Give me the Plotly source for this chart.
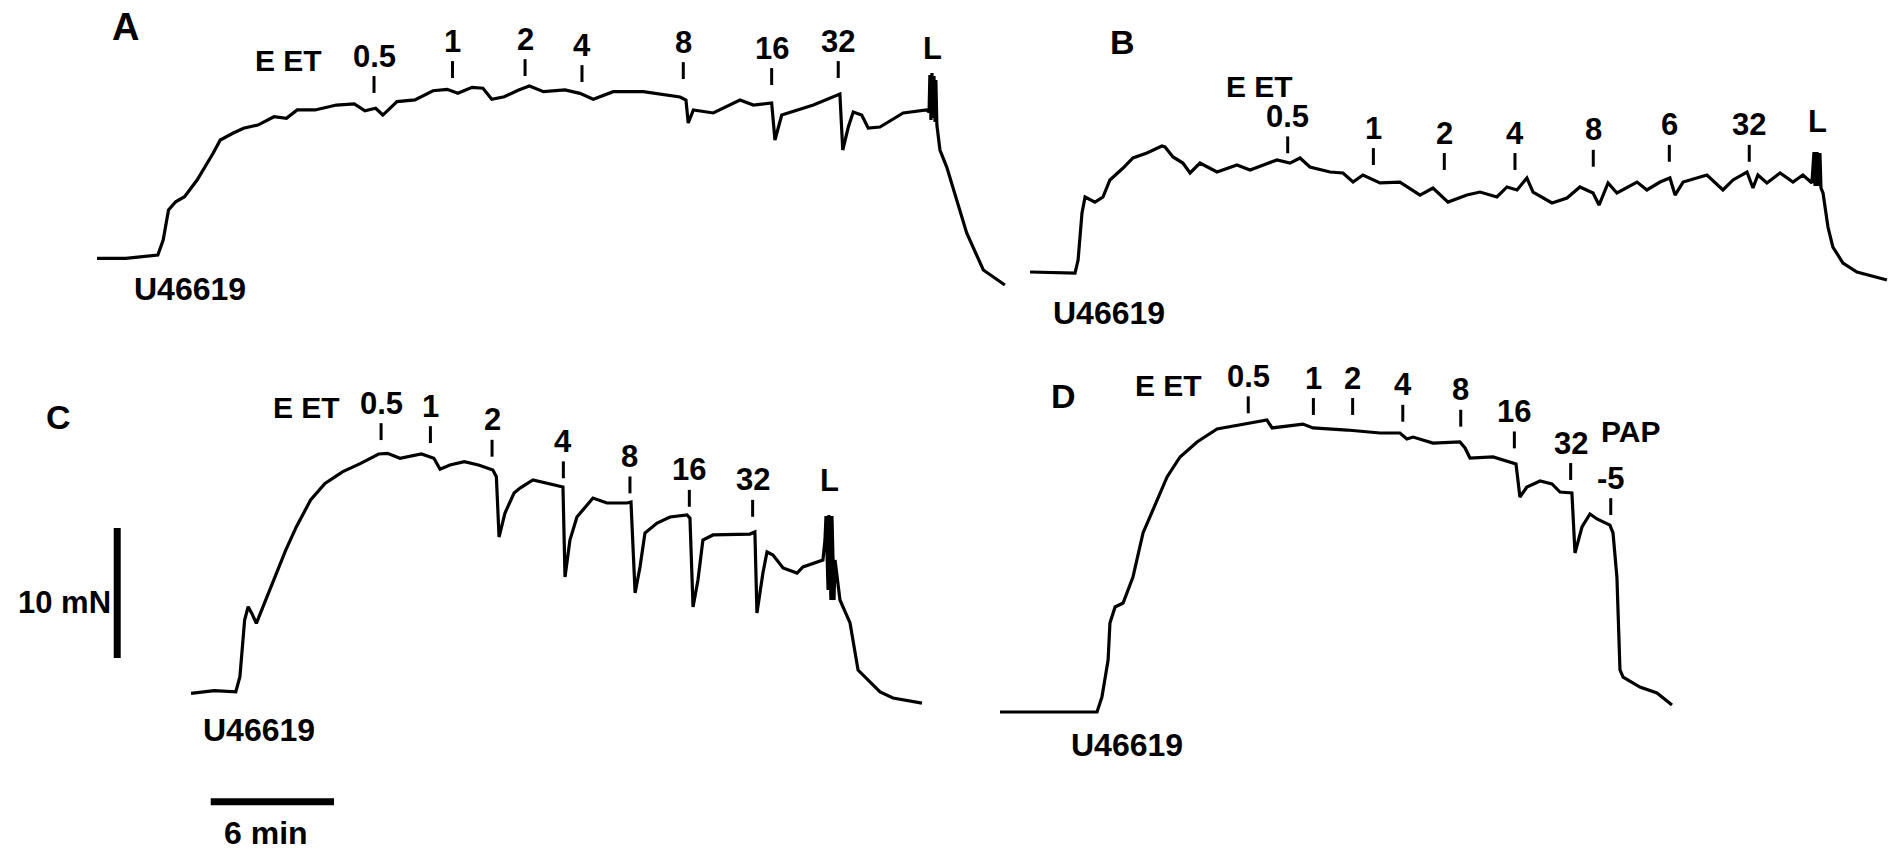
import plotly.graph_objects as go

# ---------------------------------------------------------------------------
# Isometric tension recordings (time in min, tension in mN above baseline)
# ---------------------------------------------------------------------------

# Panel A
a_time = [0.00, 1.40, 2.96, 3.22, 3.48, 3.83, 4.26, 4.87, 5.65, 6.00, 6.61, 7.13, 7.83,
          8.61, 9.22, 9.74, 10.61, 11.65, 12.52, 13.04, 13.56, 13.91, 14.60, 15.47, 16.35,
          17.04, 17.56, 18.25, 18.78, 19.21, 19.82, 20.52, 21.04, 21.73, 22.77, 23.50,
          24.15, 25.12, 26.58, 28.37, 28.66, 28.77, 29.02, 29.99, 31.29, 31.94, 32.83,
          32.99, 33.32, 34.86, 36.15, 36.29, 36.56, 36.80, 37.21, 37.53, 38.10, 39.23,
          40.37, 40.49, 40.53, 40.58, 40.63, 40.68, 40.73, 40.78, 40.82, 40.87, 41.02,
          41.35, 42.32, 43.13, 44.18]
a_force = [-0.1, -0.1, 0.15, 1.31, 3.62, 4.25, 4.64, 5.92, 7.98, 9.0, 9.52, 9.9, 10.15,
           10.79, 10.67, 11.31, 11.31, 11.69, 11.77, 11.25, 11.44, 10.92, 11.95, 12.08, 12.79,
           12.9, 12.59, 13.05, 12.98, 12.13, 12.33, 12.85, 13.15, 12.72, 12.85, 12.59,
           12.13, 12.72, 12.72, 12.31, 12.08, 10.31, 11.31, 11.08, 12.08, 11.69, 11.85,
           9.0, 10.92, 11.69, 12.54, 8.23, 10.0, 11.15, 10.92, 9.92, 10.0, 11.08,
           11.31, 11.15, 14.0, 10.54, 14.15, 10.69, 13.92, 10.38, 13.62, 10.15, 8.23,
           6.92, 1.85, -1.0, -2.15]
a_doses = ["0.5", "1", "2", "4", "8", "16", "32", "L"]
a_dose_time = [13.48, 17.30, 20.83, 23.60, 28.53, 32.83, 36.07, 40.68]

# Panel B
b_time = [0.00, 2.19, 2.34, 2.53, 2.68, 3.16, 3.55, 3.89, 4.53, 5.01, 5.69, 6.18, 6.42,
          6.57, 6.96, 7.44, 7.79, 8.27, 9.10, 10.07, 10.71, 12.02, 12.65, 13.14, 13.62,
          14.60, 15.23, 15.72, 16.20, 17.03, 18.00, 18.98, 19.61, 20.34, 21.26, 21.90,
          22.72, 23.21, 23.70, 24.18, 24.48, 25.40, 26.13, 26.76, 27.40, 27.69, 28.13,
          28.56, 29.54, 30.02, 30.66, 31.14, 31.39, 31.78, 32.94, 33.72, 34.21, 34.89,
          35.18, 35.42, 35.86, 36.50, 37.13, 37.61, 38.05, 38.15, 38.20, 38.30, 38.34,
          38.44, 38.49, 38.59, 38.83, 39.07, 39.56, 40.24, 41.70]
b_force = [0.0, -0.08, 0.92, 4.54, 5.77, 5.38, 5.77, 7.08, 8.0, 8.77, 9.15, 9.54, 9.69,
           9.62, 8.85, 8.38, 7.62, 8.38, 7.69, 8.23, 7.85, 8.62, 8.38, 8.77, 8.08,
           7.69, 7.62, 6.92, 7.46, 6.85, 6.92, 5.92, 6.46, 5.38, 5.92, 6.15,
           5.77, 6.54, 6.31, 7.23, 6.15, 5.31, 5.69, 6.54, 6.08, 5.15, 6.85,
           6.08, 6.92, 6.31, 6.92, 7.23, 5.92, 6.92, 7.46, 6.31, 7.08, 7.69,
           6.46, 7.46, 6.85, 7.62, 6.92, 7.46, 6.85, 9.23, 6.62, 9.23, 6.62,
           9.15, 6.46, 6.08, 3.46, 1.92, 0.69, 0.0, -0.62]
b_doses = ["0.5", "1", "2", "4", "8", "6", "32", "L"]
b_dose_time = [12.54, 16.71, 20.16, 23.60, 27.41, 31.11, 35.00, 38.30]

# Panel C
c_time = [0.00, 1.13, 2.18, 2.38, 2.61, 2.78, 2.96, 3.18, 3.57, 4.09, 4.61, 5.13, 5.82,
          6.52, 7.39, 8.26, 9.13, 9.56, 10.17, 11.21, 11.82, 12.12, 12.60, 13.30, 13.99,
          14.69, 14.86, 14.99, 15.28, 15.72, 16.01, 16.64, 17.96, 18.10, 18.20, 18.44,
          18.78, 19.56, 20.24, 21.22, 21.41, 21.61, 21.85, 22.09, 22.68, 23.31, 24.14,
          24.28, 24.43, 24.67, 24.91, 25.40, 27.20, 27.44, 27.54, 27.83, 28.03, 28.32,
          28.81, 29.49, 29.78, 30.75, 30.85, 30.90, 31.00, 31.04, 31.14, 31.19, 31.29,
          31.34, 31.58, 32.07, 32.46, 33.53, 34.16, 35.57]
c_force = [-0.1, 0.1, 0.02, 1.18, 5.54, 6.56, 6.05, 5.28, 6.82, 8.87, 10.92, 12.72, 14.77,
           16.05, 16.95, 17.59, 18.31, 18.36, 17.98, 18.31, 17.98, 17.13, 17.46, 17.72, 17.46,
           17.08, 16.56, 11.92, 13.77, 15.31, 15.69, 16.31, 15.85, 15.77, 8.85, 11.69,
           13.46, 14.92, 14.54, 14.54, 14.62, 7.62, 9.62, 12.23, 13.0, 13.46, 13.62,
           13.38, 6.54, 8.62, 11.69, 12.08, 12.15, 12.31, 6.08, 9.15, 10.77, 10.54,
           9.54, 9.15, 9.62, 10.15, 11.69, 13.54, 7.85, 13.62, 7.08, 13.54, 7.08,
           10.15, 7.08, 5.31, 1.69, 0.0, -0.46, -0.85]
c_doses = ["0.5", "1", "2", "4", "8", "16", "32", "L"]
c_dose_time = [9.25, 11.65, 14.65, 18.12, 21.36, 24.25, 27.33, 31.09]

# Panel D
d_time = [0.00, 4.72, 4.96, 5.26, 5.35, 5.60, 5.99, 6.47, 6.96, 7.44, 8.13, 8.76, 9.59,
          10.56, 11.68, 12.99, 13.24, 13.97, 14.74, 15.23, 16.89, 18.49, 19.46, 19.80,
          20.10, 21.07, 22.38, 22.63, 22.87, 23.99, 24.96, 25.11, 25.30, 25.64, 26.28,
          26.86, 27.25, 27.83, 27.98, 28.32, 28.71, 29.05, 29.68, 29.83, 30.02, 30.17,
          30.32, 31.14, 31.97, 32.70]
d_force = [0.0, 0.0, 1.15, 4.0, 6.85, 8.08, 8.38, 10.38, 13.77, 15.54, 18.08, 19.62, 20.77,
           21.77, 22.08, 22.46, 21.85, 22.0, 22.15, 21.85, 21.69, 21.46, 21.46, 21.0,
           21.15, 20.69, 20.77, 20.31, 19.54, 19.62, 19.15, 19.08, 16.54, 17.31, 17.77,
           17.54, 16.92, 16.85, 12.23, 14.23, 15.23, 14.85, 14.38, 13.77, 10.38, 3.23,
           2.69, 1.92, 1.46, 0.54]
d_doses = ["0.5", "1", "2", "4", "8", "16", "32", "-5"]
d_dose_time = [12.08, 15.25, 17.16, 19.60, 22.42, 25.03, 27.77, 29.72]

# Calibration bars
scale_bar_mN = 10
scale_bar_min = 6

# ---------------------------------------------------------------------------
# Layout helpers
# ---------------------------------------------------------------------------
W, H = 1892, 850
PX_PER_MIN = 20.55
PX_PER_MN = 13.0
TICK_LEN = 1.3          # length of the addition markers, mN
FONT = "Liberation Sans, Arial, Helvetica, sans-serif"
NARROW = "Liberation Sans Narrow, Arial Narrow, Liberation Sans, sans-serif"
DOSE_SIZE = 31

# where each panel's (t=0, f=0) sits on the page, and the bottom of its markers (mN)
panels = [
    dict(letter="A", t=a_time, f=a_force, doses=a_doses, dose_t=a_dose_time,
         origin=(97, 257),
         mark_base=[12.62, 13.77, 13.92, 13.46, 13.69, 13.23, 13.77, 13.2],
         letter_pos=(1.41, 17.7), letter_size=38, eet_pos=(9.34, 15.15),
         agonist_pos=(4.53, -2.45), dose_font=FONT),
    dict(letter="B", t=b_time, f=b_force, doses=b_doses, dose_t=b_dose_time,
         origin=(1030, 272),
         mark_base=[9.13, 8.23, 7.85, 7.85, 8.10, 8.48, 8.48, 8.72],
         letter_pos=(4.48, 17.7), letter_size=34, eet_pos=(11.19, 14.25),
         agonist_pos=(3.84, -3.15), dose_font=FONT),
    dict(letter="C", t=c_time, f=c_force, doses=c_doses, dose_t=c_dose_time,
         origin=(191, 692),
         mark_base=[19.38, 19.15, 18.10, 16.44, 15.28, 14.25, 13.48, 13.46],
         letter_pos=(-6.47, 21.15), letter_size=34, eet_pos=(5.64, 21.9),
         agonist_pos=(3.31, -2.9), dose_font=FONT),
    dict(letter="D", t=d_time, f=d_force, doses=d_doses, dose_t=d_dose_time,
         origin=(1000, 712),
         mark_base=[22.98, 22.85, 22.85, 22.33, 21.95, 20.28, 17.85, 15.15],
         letter_pos=(3.07, 24.3), letter_size=34, eet_pos=(8.19, 25.15),
         agonist_pos=(6.17, -2.55), dose_font=NARROW),
]

fig = go.Figure()
layout_axes = {}
annotations = []


def note(text, x, y, ax, size=30, family=FONT, xanchor="center", yanchor="middle",
         xshift=0, yshift=0):
    annotations.append(dict(
        text=text, x=x, y=y, xref=f"x{ax}" if ax > 1 else "x",
        yref=f"y{ax}" if ax > 1 else "y", showarrow=False,
        xanchor=xanchor, yanchor=yanchor, xshift=xshift, yshift=yshift,
        font=dict(family=family, size=size, color="black", weight="bold")))


for i, p in enumerate(panels, start=1):
    ox, oy = p["origin"]
    xr = [-ox / PX_PER_MIN, (W - ox) / PX_PER_MIN]
    yr = [-(H - oy) / PX_PER_MN, oy / PX_PER_MN]
    xname = "xaxis" if i == 1 else f"xaxis{i}"
    yname = "yaxis" if i == 1 else f"yaxis{i}"
    xa = dict(domain=[0, 1], range=xr, visible=False, fixedrange=True,
              anchor="y" if i == 1 else f"y{i}")
    ya = dict(domain=[0, 1], range=yr, visible=False, fixedrange=True,
              anchor="x" if i == 1 else f"x{i}")
    if i > 1:
        xa["overlaying"] = "x"
        ya["overlaying"] = "y"
    layout_axes[xname] = xa
    layout_axes[yname] = ya
    xref = "x" if i == 1 else f"x{i}"
    yref = "y" if i == 1 else f"y{i}"

    # tension trace
    fig.add_trace(go.Scatter(x=p["t"], y=p["f"], mode="lines", xaxis=xref, yaxis=yref,
                             line=dict(color="black", width=3.2), hoverinfo="skip",
                             showlegend=False))

    # addition markers
    mx, my = [], []
    for name, t, base in zip(p["doses"], p["dose_t"], p["mark_base"]):
        if name != "L":
            mx += [t, t, None]
            my += [base, base + TICK_LEN, None]
        note(name, t, base + TICK_LEN, i, size=DOSE_SIZE, family=p["dose_font"], yshift=20)
    fig.add_trace(go.Scatter(x=mx, y=my, mode="lines", xaxis=xref, yaxis=yref,
                             line=dict(color="black", width=3), hoverinfo="skip",
                             showlegend=False))

    note(p["letter"], *p["letter_pos"], i, size=p["letter_size"])
    note("E ET", *p["eet_pos"], i)
    note("U46619", *p["agonist_pos"], i, size=32)

# PAP addition in panel D sits above its dose label
note("PAP", 30.66, 21.56, 4)

# calibration bars, drawn in panel C's units
bar_t, bar_f0 = -3.59, 2.62
fig.add_trace(go.Scatter(x=[bar_t, bar_t], y=[bar_f0, bar_f0 + scale_bar_mN], mode="lines",
                         xaxis="x3", yaxis="y3", line=dict(color="black", width=7),
                         hoverinfo="skip", showlegend=False))
note(f"{scale_bar_mN} mN", bar_t, 6.85, 3, size=31, xanchor="right", xshift=-4)

hbar_t0, hbar_f = 0.96, -8.44
fig.add_trace(go.Scatter(x=[hbar_t0, hbar_t0 + scale_bar_min], y=[hbar_f, hbar_f], mode="lines",
                         xaxis="x3", yaxis="y3", line=dict(color="black", width=7),
                         hoverinfo="skip", showlegend=False))
note(f"{scale_bar_min} min", hbar_t0 + scale_bar_min / 2, -10.85, 3, size=32, xshift=-6)

fig.update_layout(
    width=W, height=H,
    margin=dict(l=0, r=0, t=0, b=0),
    paper_bgcolor="white", plot_bgcolor="white",
    showlegend=False,
    annotations=annotations,
    **layout_axes,
)

fig.write_html("out.html", config={"displayModeBar": False})
